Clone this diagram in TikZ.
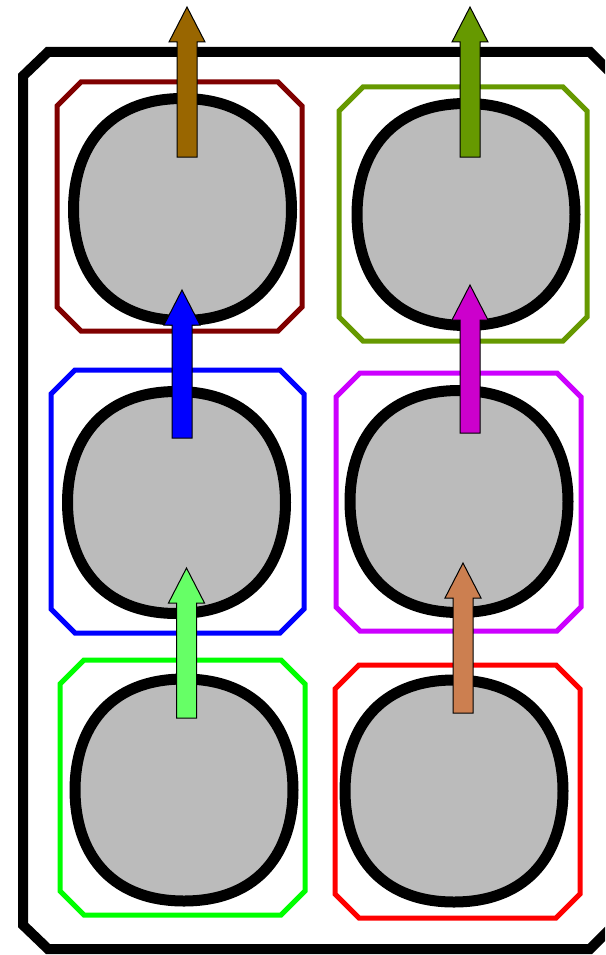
\documentclass[tikz,border=0pt]{standalone}
\usetikzlibrary{calc}

\definecolor{cellred}{HTML}{800000}
\definecolor{cellolive}{HTML}{669900}
\definecolor{cellblue}{HTML}{0000FF}
\definecolor{cellviolet}{HTML}{CC00FF}
\definecolor{cellgreen}{HTML}{00FF00}
\definecolor{cellbright}{HTML}{FF0000}
\definecolor{blobgray}{HTML}{BBBBBB}
\definecolor{flowbrown}{HTML}{996600}
\definecolor{flowolive}{HTML}{669900}
\definecolor{flowblue}{HTML}{0000FF}
\definecolor{flowmagenta}{HTML}{CC00CC}
\definecolor{flowlight}{HTML}{66FF66}
\definecolor{flowsalmon}{HTML}{CC7F50}

\begin{document}
\begin{tikzpicture}[x=1pt,y=-1pt,
  cellbox/.style={inner sep=0pt, outer sep=0pt},
  cell/.style={draw=#1, line width=5pt},
  blob/.style={draw=black, fill=blobgray, line width=11pt},
  flow/.style={draw=black, line width=1pt, fill=#1}]
%
%''''''''''''''''''''''''''''blob and arrow sizes''''''''''''''''''''''''''''''''''''''''''''
\def\cs{24}% chamfer of the cells
\def\bw{109}% half width of a blob
\def\bh{111}% half height of a blob
\def\ks{0.54}% control factor at the sides
\def\kt{0.70}% control factor at top and bottom
\def\sw{10}% half width of arrow shaft
\def\hw{18}% half width of arrow head
\def\hl{35}% length of arrow head
%''''''''''''''''''''''''''''''''''''''''''''''''''''''''''''''''''''''''''''''''''''''''''''
%
\clip (0,0) rectangle (605,955);
%
% outer frame
\draw[line width=10pt] (23,76)--(48,52)--(590,52)--(614,76)--(614,925)--(590,949)--(48,949)--(23,925)--cycle;
%
% cells
\node[cellbox, minimum width=245pt, minimum height=249pt] (c11) at (179.5,206.5) {};
\node[cellbox, minimum width=248pt, minimum height=254pt] (c12) at (463,214) {};
\node[cellbox, minimum width=253pt, minimum height=263pt] (c21) at (177.5,501.5) {};
\node[cellbox, minimum width=245pt, minimum height=258pt] (c22) at (458.5,502) {};
\node[cellbox, minimum width=245pt, minimum height=255pt] (c31) at (182.5,787.5) {};
\node[cellbox, minimum width=245pt, minimum height=253pt] (c32) at (457.5,791.5) {};
%
\foreach \n/\c in {c11/cellred,c12/cellolive,c21/cellblue,c22/cellviolet,c31/cellgreen,c32/cellbright}{
  \draw[cell=\c] ($(\n.north west)+(\cs,0)$)--($(\n.north east)+(-\cs,0)$)--($(\n.north east)+(0,\cs)$)
    --($(\n.south east)+(0,-\cs)$)--($(\n.south east)+(-\cs,0)$)--($(\n.south west)+(\cs,0)$)
    --($(\n.south west)+(0,-\cs)$)--($(\n.north west)+(0,\cs)$)--cycle;
}
%
% blob centres
\coordinate (b11) at (182.5,209.5);
\coordinate (b12) at (466,214.5);
\coordinate (b21) at (176.5,502.5);
\coordinate (b22) at (459,501.5);
\coordinate (b31) at (184,790);
\coordinate (b32) at (454,791);
%
\foreach \b in {b11,b12,b21,b22,b31,b32}{
  \begin{scope}[shift={(\b)}]
    \draw[blob] (\bw,0) .. controls (\bw,\ks*\bh) and (\kt*\bw,\bh) .. (0,\bh)
      .. controls (-\kt*\bw,\bh) and (-\bw,\ks*\bh) .. (-\bw,0)
      .. controls (-\bw,-\ks*\bh) and (-\kt*\bw,-\bh) .. (0,-\bh)
      .. controls (\kt*\bw,-\bh) and (\bw,-\ks*\bh) .. (\bw,0) -- cycle;
  \end{scope}
}
%
% arrow ends
\coordinate (a11) at (187,157);   \coordinate (top1) at (187,7);
\coordinate (a12) at (470,157);   \coordinate (top2) at (470,7);
\coordinate (a21) at (182,438);   \coordinate (in11) at (182,290);
\coordinate (a22) at (470,433);   \coordinate (in12) at (470,285);
\coordinate (a31) at (186.5,718); \coordinate (in21) at (186.5,568);
\coordinate (a32) at (463,713);   \coordinate (in22) at (463,563);
%
% arrows
\foreach \s/\t/\c in {a11/top1/flowbrown,a12/top2/flowolive,a21/in11/flowblue,
                      a22/in12/flowmagenta,a31/in21/flowlight,a32/in22/flowsalmon}{
  \draw[flow=\c] ($(\s)+(-\sw,0)$)--($(\t)+(-\sw,\hl)$)--($(\t)+(-\hw,\hl)$)--(\t)
    --($(\t)+(\hw,\hl)$)--($(\t)+(\sw,\hl)$)--($(\s)+(\sw,0)$)--cycle;
}
%
\end{tikzpicture}
\end{document}
